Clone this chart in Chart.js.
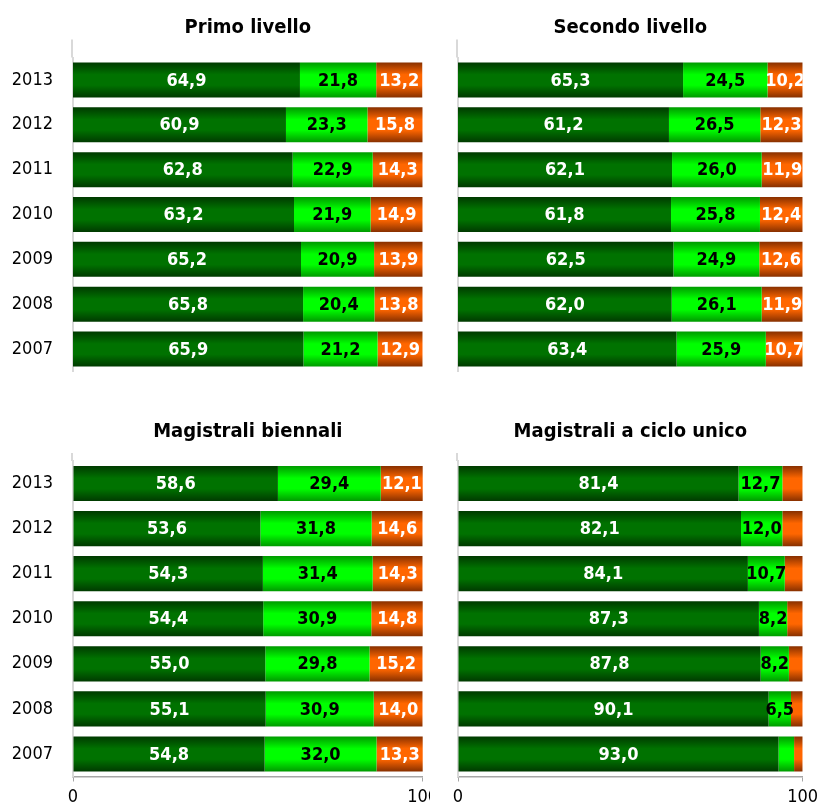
<!DOCTYPE html>
<html>
<head>
<meta charset="utf-8">
<script src="https://cdn.jsdelivr.net/npm/chart.js@4/dist/chart.umd.min.js"></script>
<style>
    body { margin: 0; background: #fff; }
    #wrap { position: relative; width: 817px; height: 805px; overflow: hidden; }
    canvas { position: absolute; }
</style>
</head>
<body>
<div id="wrap">
    <canvas id="c1" width="430" height="400" style="left:0;top:0"></canvas>
    <canvas id="c2" width="387" height="400" style="left:430px;top:0"></canvas>
    <canvas id="c3" width="430" height="405" style="left:0;top:400px"></canvas>
    <canvas id="c4" width="387" height="405" style="left:430px;top:400px"></canvas>
</div>
<script>
var years = ['2013', '2012', '2011', '2010', '2009', '2008', '2007'];

var primoScuro = [64.9, 60.9, 62.8, 63.2, 65.2, 65.8, 65.9];
var primoVerde = [21.8, 23.3, 22.9, 21.9, 20.9, 20.4, 21.2];
var primoArancio = [13.2, 15.8, 14.3, 14.9, 13.9, 13.8, 12.9];

var secondoScuro = [65.3, 61.2, 62.1, 61.8, 62.5, 62.0, 63.4];
var secondoVerde = [24.5, 26.5, 26.0, 25.8, 24.9, 26.1, 25.9];
var secondoArancio = [10.2, 12.3, 11.9, 12.4, 12.6, 11.9, 10.7];

var bienScuro = [58.6, 53.6, 54.3, 54.4, 55.0, 55.1, 54.8];
var bienVerde = [29.4, 31.8, 31.4, 30.9, 29.8, 30.9, 32.0];
var bienArancio = [12.1, 14.6, 14.3, 14.8, 15.2, 14.0, 13.3];

var cicloScuro = [81.4, 82.1, 84.1, 87.3, 87.8, 90.1, 93.0];
var cicloVerde = [12.7, 12.0, 10.7, 8.2, 8.2, 6.5, 4.5];
var cicloArancio = [5.9, 5.9, 5.2, 4.5, 4.0, 3.4, 2.5];

var xTicks = [0, 100];

var FONT = "'DejaVu Sans Condensed', 'DejaVu Sans', sans-serif";
var BAR_PCT = 0.78;

// colori: [bordo, centro]
var palette = [
    ['#003a00', '#007200'],
    ['#009a00', '#00ff00'],
    ['#873000', '#ff6600']
];
var labelColors = ['#ffffff', '#000000', '#ffffff'];

function gradientFor(idx) {
    return function (ctx) {
        var chart = ctx.chart;
        var area = chart.chartArea;
        var y = chart.scales.y;
        if (!area || !y) {
            return palette[idx][1];
        }
        var center = y.getPixelForValue(ctx.dataIndex);
        var half = area.height / years.length * BAR_PCT / 2;
        var g = chart.ctx.createLinearGradient(0, center - half, 0, center + half);
        g.addColorStop(0, palette[idx][0]);
        g.addColorStop(0.35, palette[idx][1]);
        g.addColorStop(0.65, palette[idx][1]);
        g.addColorStop(1, palette[idx][0]);
        return g;
    };
}

var valueLabels = {
    id: 'valueLabels',
    afterDatasetsDraw: function (chart) {
        var ctx = chart.ctx;
        var area = chart.chartArea;
        ctx.save();
        ctx.beginPath();
        ctx.rect(area.left, area.top, area.right - area.left, area.bottom - area.top);
        ctx.clip();
        ctx.font = 'bold 18px ' + FONT;
        ctx.textAlign = 'center';
        ctx.textBaseline = 'middle';
        chart.data.datasets.forEach(function (ds, di) {
            var meta = chart.getDatasetMeta(di);
            ctx.fillStyle = labelColors[di];
            meta.data.forEach(function (bar, i) {
                var v = ds.data[i];
                if (v < 6) {
                    return;
                }
                var txt = v.toFixed(1).replace('.', ',');
                ctx.fillText(txt, (bar.x + bar.base) / 2, bar.y + 1);
            });
        });
        ctx.restore();
    }
};

var axisExtend = {
    id: 'axisExtend',
    afterDraw: function (chart, args, opts) {
        var area = chart.chartArea;
        var ctx = chart.ctx;
        ctx.save();
        ctx.strokeStyle = '#d9d9d9';
        ctx.lineWidth = 2;
        ctx.beginPath();
        ctx.moveTo(area.left - 1, area.top - opts.top);
        ctx.lineTo(area.left - 1, area.top);
        ctx.stroke();
        ctx.restore();
    }
};

function makeChart(canvasId, title, scuro, verde, arancio, cfg) {
    return new Chart(document.getElementById(canvasId), {
        type: 'bar',
        data: {
            labels: years,
            datasets: [
                {label: 'scuro', data: scuro, backgroundColor: gradientFor(0)},
                {label: 'verde', data: verde, backgroundColor: gradientFor(1)},
                {label: 'arancio', data: arancio, backgroundColor: gradientFor(2)}
            ]
        },
        options: {
            indexAxis: 'y',
            responsive: false,
            animation: false,
            events: [],
            datasets: {
                bar: {barPercentage: BAR_PCT, categoryPercentage: 1, borderWidth: 0}
            },
            layout: {
                padding: {top: cfg.padTop, right: cfg.padRight, bottom: cfg.padBottom, left: 0}
            },
            scales: {
                x: {
                    stacked: true,
                    min: 0,
                    max: 100,
                    display: cfg.showX,
                    afterBuildTicks: function (scale) {
                        scale.ticks = xTicks.map(function (v) { return {value: v}; });
                    },
                    afterFit: function (scale) {
                        scale.height = cfg.showX ? 28.5 : 0;
                        scale.paddingLeft = 0;
                        scale.paddingRight = 0;
                    },
                    grid: {drawOnChartArea: false, drawTicks: true, tickLength: 5, color: '#a6a6a6'},
                    border: {display: true, color: '#a6a6a6', width: 1.5},
                    ticks: {color: '#000', padding: 5, maxRotation: 0, font: {family: FONT, size: 18}}
                },
                y: {
                    stacked: true,
                    afterFit: function (scale) {
                        scale.width = cfg.yWidth;
                        scale.paddingTop = 0;
                        scale.paddingBottom = 0;
                    },
                    grid: {display: false, drawTicks: false},
                    border: {display: true, color: '#d9d9d9', width: 2},
                    ticks: {display: cfg.showY, color: '#000', padding: 20, font: {family: FONT, size: 18}}
                }
            },
            plugins: {
                legend: {display: false},
                tooltip: {enabled: false},
                title: {
                    display: true,
                    fullSize: false,
                    text: title,
                    color: '#000',
                    font: {family: FONT, size: 20, weight: 'bold'},
                    padding: {top: 0, bottom: cfg.titlePad}
                },
                axisExtend: {top: cfg.ext}
            }
        },
        plugins: [valueLabels, axisExtend]
    });
}

makeChart('c1', 'Primo livello', primoScuro, primoVerde, primoArancio,
    {padTop: 15.7, padRight: 7.3, padBottom: 28.5, titlePad: 17.8, showX: false, showY: true, yWidth: 73, ext: 18});
makeChart('c2', 'Secondo livello', secondoScuro, secondoVerde, secondoArancio,
    {padTop: 15.7, padRight: 14.3, padBottom: 28.5, titlePad: 17.8, showX: false, showY: false, yWidth: 28, ext: 18});
makeChart('c3', 'Magistrali biennali', bienScuro, bienVerde, bienArancio,
    {padTop: 19.7, padRight: 7.3, padBottom: 0, titlePad: 17.3, showX: true, showY: true, yWidth: 73, ext: 8});
makeChart('c4', 'Magistrali a ciclo unico', cicloScuro, cicloVerde, cicloArancio,
    {padTop: 19.7, padRight: 14.3, padBottom: 0, titlePad: 17.3, showX: true, showY: false, yWidth: 28, ext: 8});
</script>
</body>
</html>
